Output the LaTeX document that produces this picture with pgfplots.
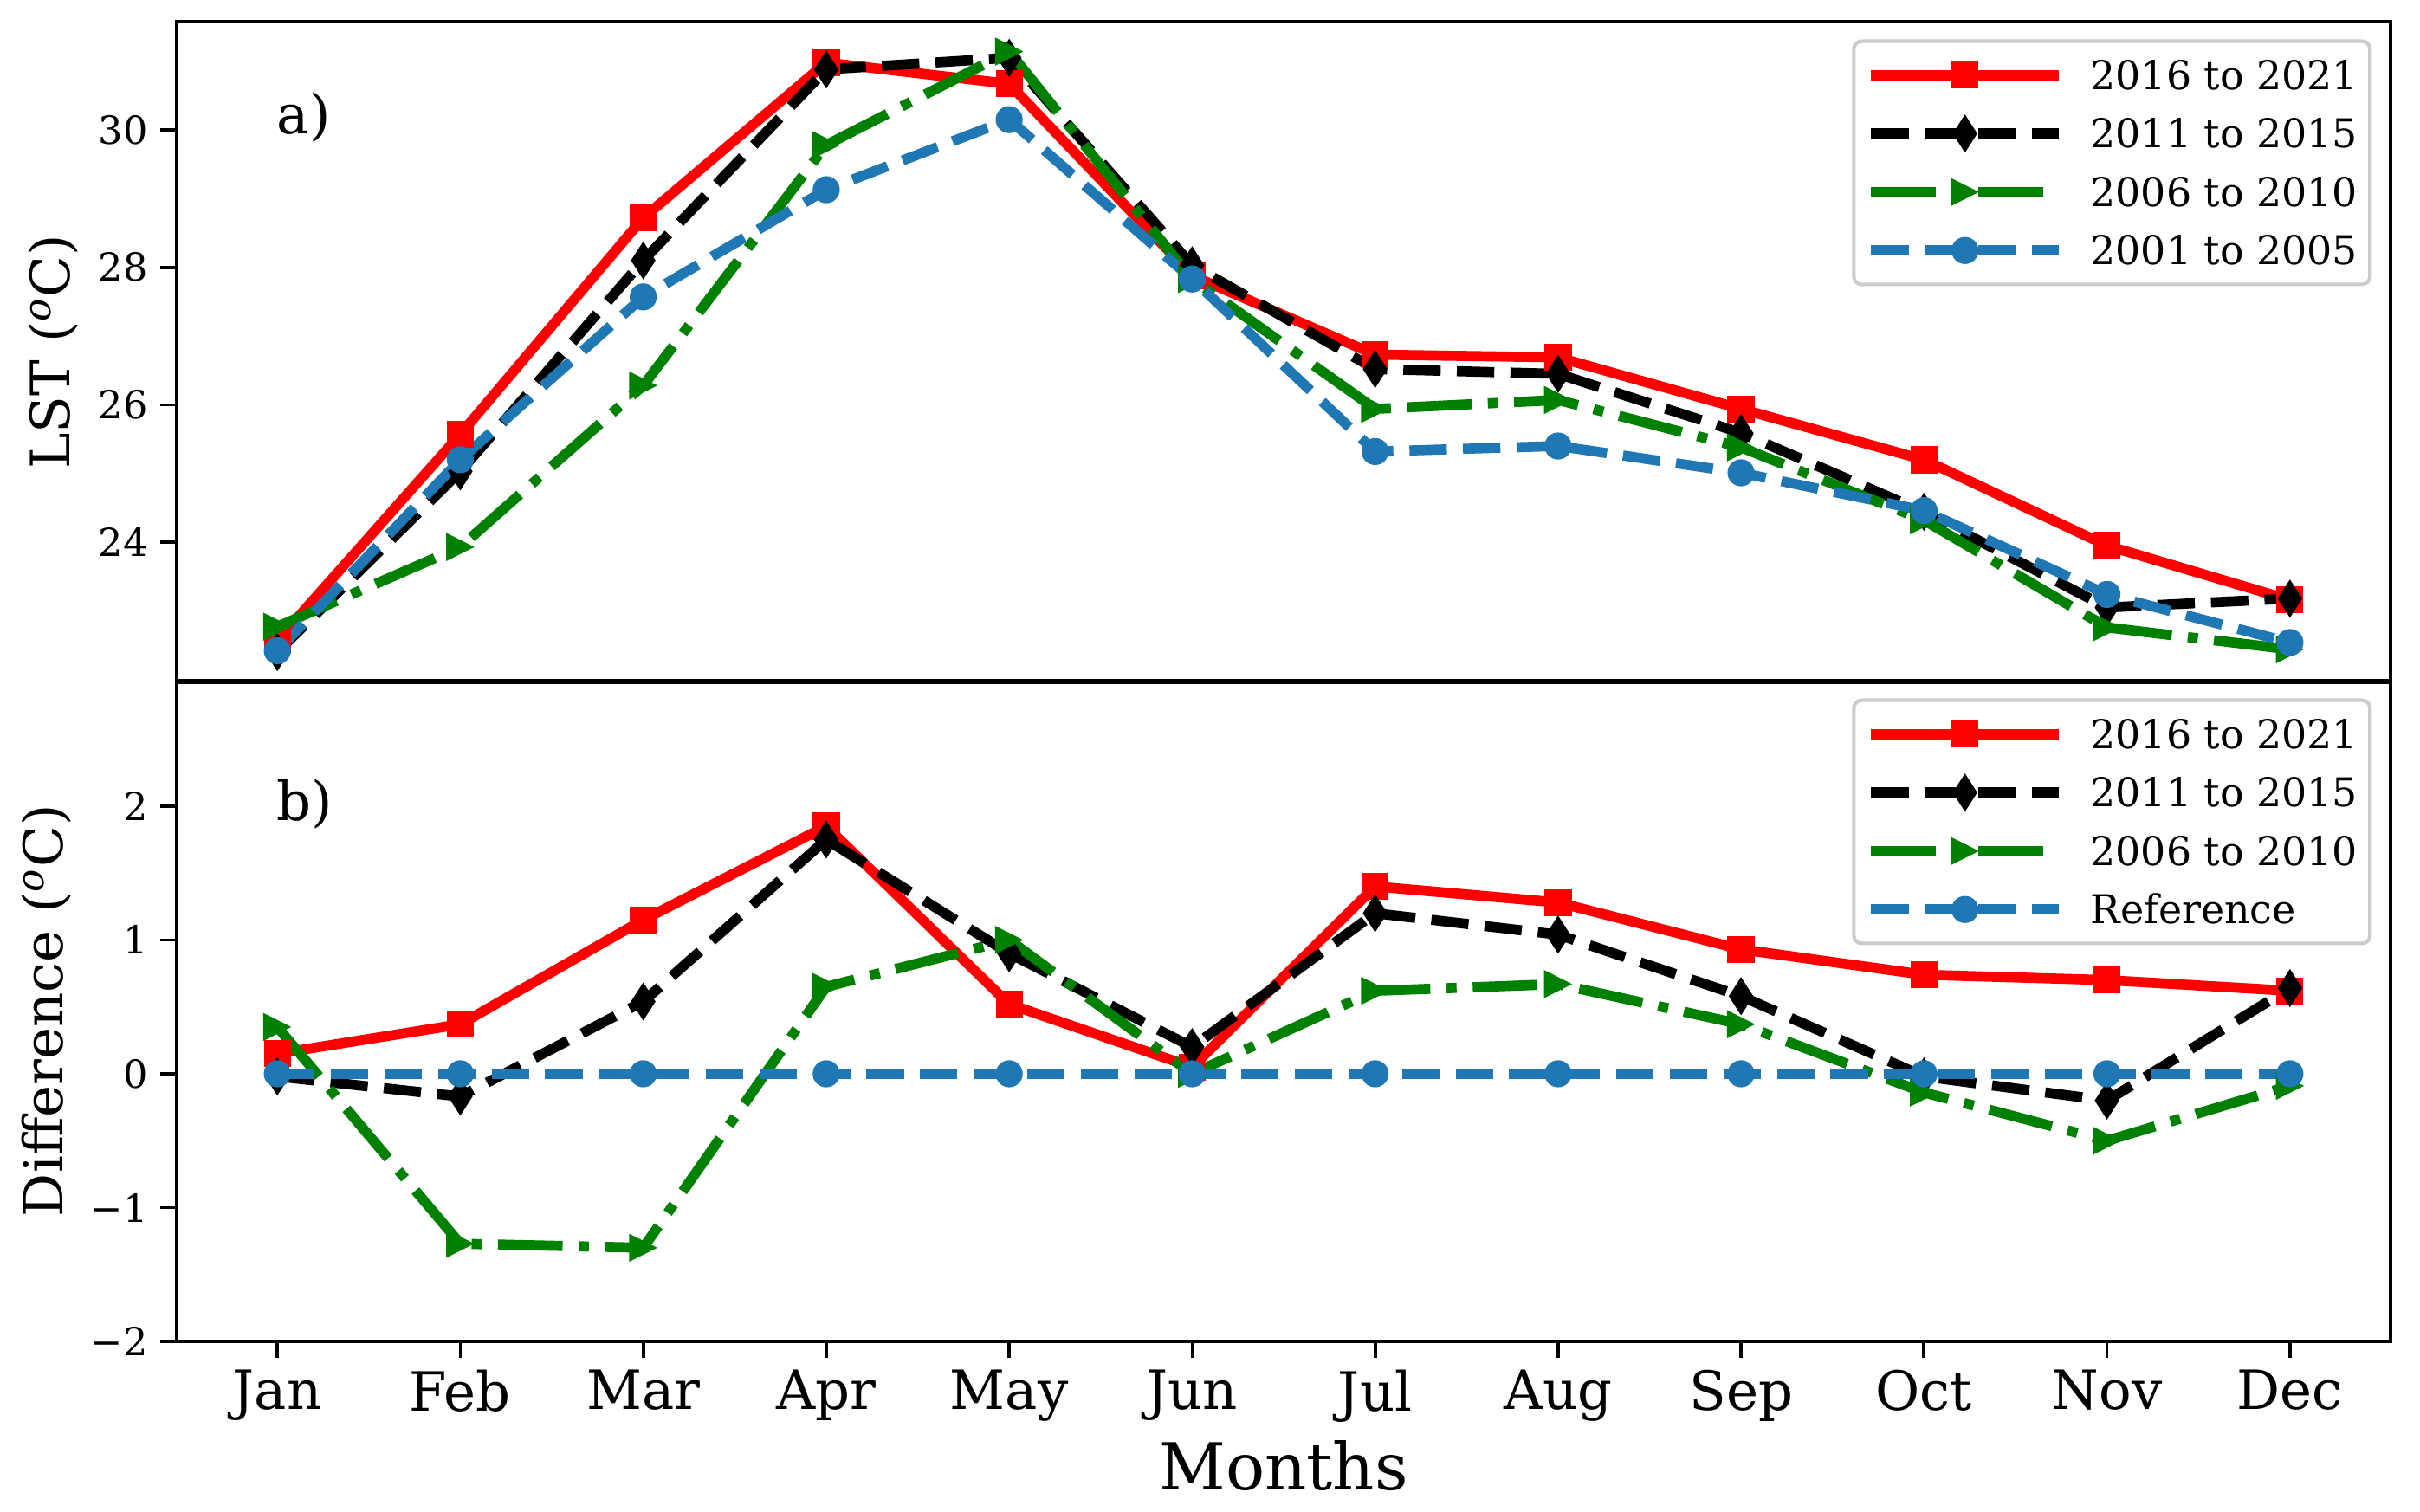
\documentclass[border=0pt]{standalone}
\usepackage{fontspec}
\setmainfont{DejaVu Serif}
\usepackage{pgfplots}
\pgfplotsset{compat=1.18}

\definecolor{mplblue}{HTML}{1F77B4}
\definecolor{mplgreen}{HTML}{008000}
\definecolor{legendedge}{gray}{0.8}

% matplotlib-like markers (ms ~ 6.5pt plus edge)
\pgfdeclareplotmark{msq}{\pgfpathrectangle{\pgfpoint{-3.75bp}{-3.75bp}}{\pgfpoint{7.5bp}{7.5bp}}\pgfusepathqfill}
\pgfdeclareplotmark{mcirc}{\pgfpathcircle{\pgfpointorigin}{3.75bp}\pgfusepathqfill}
\pgfdeclareplotmark{mdia}{\pgfpathmoveto{\pgfpoint{0bp}{5.3bp}}\pgfpathlineto{\pgfpoint{3.4bp}{0bp}}\pgfpathlineto{\pgfpoint{0bp}{-5.3bp}}\pgfpathlineto{\pgfpoint{-3.4bp}{0bp}}\pgfpathclose\pgfusepathqfill}
\pgfdeclareplotmark{mtri}{\pgfpathmoveto{\pgfpoint{3.9bp}{0bp}}\pgfpathlineto{\pgfpoint{-3.9bp}{3.9bp}}\pgfpathlineto{\pgfpoint{-3.9bp}{-3.9bp}}\pgfpathclose\pgfusepathqfill}

\pgfplotsset{
  panel/.style={
    scale only axis, width=613.44bp, height=183.2bp,
    xmin=-0.55, xmax=11.55,
    axis line style={line width=0.9bp},
    tick align=outside, major tick length=4.5bp,
    tick style={line width=0.9bp, black},
    ytick pos=left, xtick pos=lower,
    yticklabel style={font=\fontsize{10.7bp}{12bp}\selectfont},
    xticklabel style={font=\fontsize{15bp}{18bp}\selectfont},
    ylabel style={font=\fontsize{15bp}{18bp}\selectfont, anchor=base},
    xlabel style={font=\fontsize{18bp}{21bp}\selectfont},
    legend cell align=left,
    legend style={
      at={(1,1)}, anchor=north east, xshift=-5.2bp, yshift=-5bp,
      draw=legendedge, line width=1bp, rounded corners=2.2bp, fill=white,
      inner xsep=3.4bp, inner ysep=1.3bp, column sep=7.4bp, row sep=0pt,
      font=\fontsize{11bp}{13bp}\selectfont,
      nodes={inner xsep=0pt, inner ysep=0pt, text height=12.1bp, text depth=4.1bp},
    },
    legend image code/.code={
      \draw[mark repeat=2,mark phase=2] plot coordinates {(0bp,0bp) (26bp,0bp) (52bp,0bp)};
    },
    every axis plot/.append style={line width=2.8bp, line join=round},
  },
  s1/.style={red, solid, mark=msq},
  s2/.style={black, dash pattern=on 10.36bp off 4.48bp, mark=mdia},
  s3/.style={mplgreen, dash pattern=on 17.92bp off 4.48bp on 2.8bp off 4.48bp, mark=mtri},
  s4/.style={mplblue, dash pattern=on 10.36bp off 4.48bp, mark=mcirc},
}

\begin{document}
\begin{tikzpicture}
\path (0,0) rectangle (670.56bp,418.8bp);

% a) mean monthly LST
\begin{axis}[panel, at={(48.96bp,229.68bp)}, anchor=south west,
  ymin=21.96, ymax=31.58,
  ytick={24,26,28,30}, yticklabels={24,26,28,30},
  xtick=\empty,
  ylabel={LST (\textsuperscript{\itshape o}C)},
  ylabel style={at={(axis description cs:-0.0485,0.5)}},
]
\addplot[s1] coordinates {(0,22.57) (1,25.57) (2,28.72) (3,30.98) (4,30.67) (5,27.88) (6,26.73) (7,26.69) (8,25.94) (9,25.20) (10,23.95) (11,23.16)};
\addlegendentry{2016 to 2021}
\addplot[s2] coordinates {(0,22.40) (1,25.03) (2,28.10) (3,30.88) (4,31.05) (5,28.03) (6,26.52) (7,26.45) (8,25.59) (9,24.44) (10,23.05) (11,23.18)};
\addlegendentry{2011 to 2015}
\addplot[s3] coordinates {(0,22.77) (1,23.93) (2,26.28) (3,29.78) (4,31.14) (5,27.83) (6,25.94) (7,26.07) (8,25.38) (9,24.32) (10,22.76) (11,22.44)};
\addlegendentry{2006 to 2010}
\addplot[s4] coordinates {(0,22.42) (1,25.20) (2,27.57) (3,29.13) (4,30.15) (5,27.83) (6,25.32) (7,25.40) (8,25.01) (9,24.46) (10,23.24) (11,22.54)};
\addlegendentry{2001 to 2005}
\node[anchor=base west, inner sep=0pt, font=\fontsize{15bp}{18bp}\selectfont] at (axis description cs:0.045,0.830) {a)};
\end{axis}

% b) difference from 2001-2005
\begin{axis}[panel, at={(48.96bp,47.04bp)}, anchor=south west,
  ymin=-2, ymax=2.94,
  ytick={-2,-1,0,1,2}, yticklabels={−2,−1,0,1,2},
  xtick={0,1,2,3,4,5,6,7,8,9,10,11},
  xticklabels={Jan,Feb,Mar,Apr,May,Jun,Jul,Aug,Sep,Oct,Nov,Dec},
  ylabel={Difference (\textsuperscript{\itshape o}C)},
  ylabel style={at={(axis description cs:-0.0516,0.5)}},
  xlabel={Months},
  xlabel style={at={(axis description cs:0.5,-0.2247)}, anchor=base},
]
\addplot[s1] coordinates {(0,0.15) (1,0.37) (2,1.15) (3,1.85) (4,0.52) (5,0.05) (6,1.40) (7,1.28) (8,0.93) (9,0.74) (10,0.70) (11,0.62)};
\addlegendentry{2016 to 2021}
\addplot[s2] coordinates {(0,-0.02) (1,-0.17) (2,0.54) (3,1.75) (4,0.90) (5,0.20) (6,1.20) (7,1.04) (8,0.58) (9,-0.02) (10,-0.20) (11,0.64)};
\addlegendentry{2011 to 2015}
\addplot[s3] coordinates {(0,0.35) (1,-1.27) (2,-1.30) (3,0.65) (4,1.00) (5,0.00) (6,0.62) (7,0.67) (8,0.37) (9,-0.14) (10,-0.50) (11,-0.09)};
\addlegendentry{2006 to 2010}
\addplot[s4] coordinates {(0,0) (1,0) (2,0) (3,0) (4,0) (5,0) (6,0) (7,0) (8,0) (9,0) (10,0) (11,0)};
\addlegendentry{Reference}
\node[anchor=base west, inner sep=0pt, font=\fontsize{15bp}{18bp}\selectfont] at (axis description cs:0.045,0.788) {b)};
\end{axis}
\end{tikzpicture}
\end{document}
